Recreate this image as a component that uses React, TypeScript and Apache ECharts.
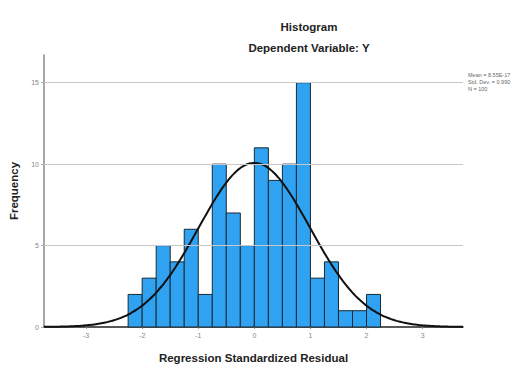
import React, { useEffect, useRef } from "react";
import * as echarts from "echarts";

// Histogram bins (lower edges) and frequencies
const binWidth = 0.25;
const binLower = [-2.25, -2, -1.75, -1.5, -1.25, -1, -0.75, -0.5, -0.25, 0, 0.25, 0.5, 0.75, 1, 1.25, 1.5, 1.75, 2];
const frequencies = [2, 3, 5, 4, 6, 2, 10, 7, 5, 11, 9, 10, 15, 3, 4, 1, 1, 2];

// Summary statistics shown in the chart's note
const statMean = 0;
const statStdDev = 0.99;
const statN = 100;
const statLines = ["Mean = 8.55E-17", "Std. Dev. = 0.990", "N = 100"];

const xTickLabels = [-3, -2, -1, 0, 1, 2, 3];
const yTickLabels = [0, 5, 10, 15];
const gridValues = [5, 10, 15];

const xMin = -3.75;
const xMax = 3.72;
const yMax = 16.7;

// Fitted normal curve from the stated mean, std. dev. and N
function normalCurve(): number[][] {
  const pts: number[][] = [];
  const steps = 150;
  for (let i = 0; i <= steps; i++) {
    const x = xMin + ((xMax - xMin) * i) / steps;
    const z = (x - statMean) / statStdDev;
    const y = (statN * binWidth * Math.exp(-0.5 * z * z)) / (statStdDev * Math.sqrt(2 * Math.PI));
    pts.push([x, y]);
  }
  return pts;
}

export default function App() {
  const ref = useRef<HTMLDivElement>(null);
  useEffect(() => {
    if (!ref.current) return;
    const chart = echarts.init(ref.current, null, { renderer: "svg" });
    const font = "Liberation Sans, Arial, sans-serif";
    const titleStyle = { fontFamily: font, fontSize: 11.5, fontWeight: "bold", fill: "#222" };
    const barData = binLower.map((lo, i) => [lo, lo + binWidth, frequencies[i]]);
    chart.setOption({
      animation: false,
      backgroundColor: "#ffffff",
      graphic: [
        {
          type: "text",
          x: 309,
          y: 27,
          style: { ...titleStyle, text: "Histogram", textAlign: "center", textVerticalAlign: "middle" },
        },
        {
          type: "text",
          x: 309,
          y: 48,
          style: { ...titleStyle, text: "Dependent Variable: Y", textAlign: "center", textVerticalAlign: "middle" },
        },
        ...statLines.map((t, i) => ({
          type: "text",
          x: 468,
          y: 75 + i * 7,
          style: { text: t, fontFamily: font, fontSize: 5.5, fill: "#666", textVerticalAlign: "middle" },
        })),
      ],
      grid: { left: 44, right: 56, top: 55, bottom: 40, containLabel: false },
      xAxis: {
        type: "value",
        min: xMin,
        max: xMax,
        name: "Regression Standardized Residual",
        nameLocation: "middle",
        nameGap: 25,
        nameTextStyle: { fontFamily: font, fontSize: 11.5, fontWeight: "bold", color: "#222" },
        axisLine: { show: true, onZero: false, lineStyle: { color: "#222", width: 1.5 } },
        axisTick: { show: true, length: 2, customValues: xTickLabels, lineStyle: { color: "#999" } },
        axisLabel: {
          customValues: xTickLabels,
          fontFamily: font,
          fontSize: 7,
          color: "#888",
          margin: 5,
        },
        splitLine: { show: false },
      },
      yAxis: {
        type: "value",
        min: 0,
        max: yMax,
        name: "Frequency",
        nameLocation: "middle",
        nameGap: 22,
        nameRotate: 90,
        nameTextStyle: { fontFamily: font, fontSize: 11.5, fontWeight: "bold", color: "#222" },
        axisLine: { show: true, onZero: false, lineStyle: { color: "#888", width: 1.5 } },
        axisTick: { show: true, length: 3, customValues: yTickLabels, lineStyle: { color: "#aaa" } },
        axisLabel: {
          customValues: yTickLabels,
          fontFamily: font,
          fontSize: 7,
          color: "#888",
          margin: 5,
        },
        splitLine: { show: false },
      },
      series: [
        {
          type: "line",
          data: [[xMin, 0]],
          z: 1,
          silent: true,
          showSymbol: false,
          lineStyle: { width: 0, opacity: 0 },
          markLine: {
            silent: true,
            symbol: "none",
            label: { show: false },
            lineStyle: { color: "#c8c8c8", type: "solid", width: 1 },
            data: gridValues.map((v) => [
              { coord: [xMin, v] },
              { coord: [xMax, v] },
            ]),
          },
        },
        {
          type: "custom",
          z: 2,
          data: barData,
          encode: { x: [0, 1], y: 2 },
          renderItem: (params: any, api: any) => {
            const x0 = api.value(0);
            const x1 = api.value(1);
            const y = api.value(2);
            const p0 = api.coord([x0, y]);
            const p1 = api.coord([x1, 0]);
            return {
              type: "rect",
              shape: { x: p0[0], y: p0[1], width: p1[0] - p0[0], height: p1[1] - p0[1] },
              style: { fill: "#30a2f2", stroke: "#1a2a33", lineWidth: 1 },
            };
          },
        },
        {
          type: "line",
          z: 3,
          data: normalCurve(),
          showSymbol: false,
          smooth: true,
          lineStyle: { color: "#111", width: 2 },
          silent: true,
        },
      ],
    });
    return () => chart.dispose();
  }, []);
  return <div ref={ref} style={{ width: 519, height: 369, position: "absolute", left: 0, top: 0 }} />;
}
